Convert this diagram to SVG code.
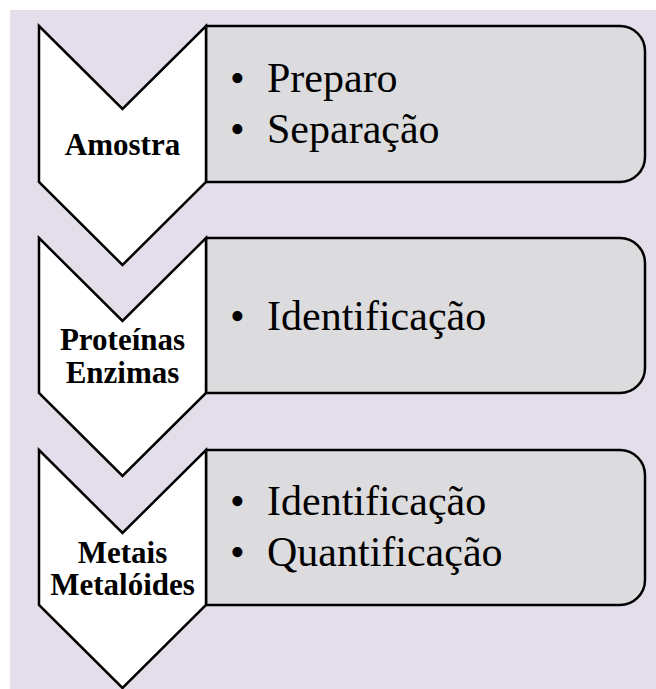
<svg xmlns="http://www.w3.org/2000/svg" width="656" height="689" viewBox="0 0 656 689">
<style>
.bg{fill:#E3DEEA}
.box{fill:#DCDCDE;stroke:#000;stroke-width:2.5;stroke-linejoin:round}
.chev{fill:#FFFFFF;stroke:#000;stroke-width:2.5;stroke-linejoin:miter}
.lbl{font-family:"Liberation Serif","Times New Roman",serif;font-weight:bold;font-size:31px;fill:#000;text-anchor:middle}
.item{font-family:"Liberation Serif","Times New Roman",serif;font-size:42px;fill:#000}
</style>
<rect class="bg" x="10" y="10" width="646" height="679"/>
<g id="connectors"></g>
<g id="step1">
  <path class="box" d="M206,26 H620 A25,25 0 0 1 645,51 V157 A25,25 0 0 1 620,182 H206 Z"/>
  <path class="chev" d="M39,26 L122.5,109 L206,26 V182 L122.5,265 L39,182 Z"/>
  <text class="lbl" x="122.5" y="155">Amostra</text>
  <text class="item" y="92"><tspan x="230">•</tspan><tspan x="267">Preparo</tspan></text>
  <text class="item" y="143"><tspan x="230">•</tspan><tspan x="267">Separação</tspan></text>
</g>
<g id="step2">
  <path class="box" d="M206,238 H620 A25,25 0 0 1 645,263 V368 A25,25 0 0 1 620,393 H206 Z"/>
  <path class="chev" d="M39,238 L122.5,321 L206,238 V393 L122.5,476 L39,393 Z"/>
  <text class="lbl" x="122.5" y="350">Proteínas</text>
  <text class="lbl" x="122.5" y="383">Enzimas</text>
  <text class="item" y="330"><tspan x="230">•</tspan><tspan x="267">Identificação</tspan></text>
</g>
<g id="step3">
  <path class="box" d="M206,450 H620 A25,25 0 0 1 645,475 V580 A25,25 0 0 1 620,605 H206 Z"/>
  <path class="chev" d="M39,450 L122.5,533 L206,450 V605 L122.5,688 L39,605 Z"/>
  <text class="lbl" x="122.5" y="563">Metais</text>
  <text class="lbl" x="122.5" y="595">Metalóides</text>
  <text class="item" y="515"><tspan x="230">•</tspan><tspan x="267">Identificação</tspan></text>
  <text class="item" y="566"><tspan x="230">•</tspan><tspan x="267">Quantificação</tspan></text>
</g>
</svg>
